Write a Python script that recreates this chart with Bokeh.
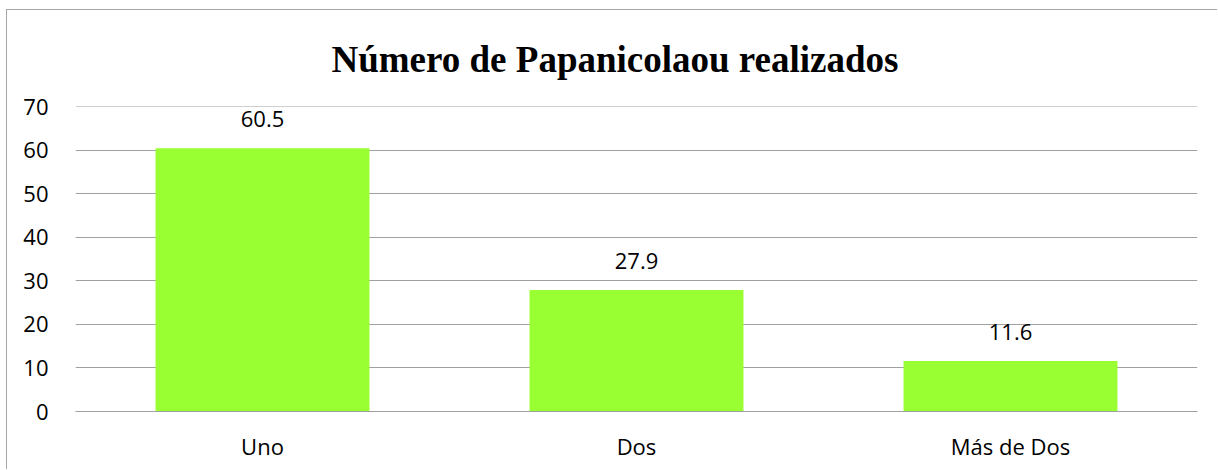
from bokeh.plotting import figure
from bokeh.models import FactorRange, Range1d, FixedTicker, ColumnDataSource
from bokeh.core.properties import value
from bokeh.embed import file_html
from bokeh.resources import INLINE

categories = ["Uno", "Dos", "Más de Dos"]
values = [60.5, 27.9, 11.6]
labels = ["60.5", "27.9", "11.6"]
y_ticks = [0, 10, 20, 30, 40, 50, 60, 70]
title_text = "Número de Papanicolaou realizados"

src = ColumnDataSource(dict(cat=categories, val=values, lab=labels))

p = figure(
    width=1211, height=460,
    x_range=FactorRange(*categories), y_range=Range1d(0, 70.1),
    output_backend="svg", toolbar_location=None,
    min_border_left=68, min_border_right=21, min_border_top=96, min_border_bottom=59,
)
p.styles = {"margin-left": "6px", "margin-top": "9px",
            "border-left": "1px solid #a6a6a6", "border-top": "1px solid #a6a6a6"}
p.outline_line_color = None
p.background_fill_color = "white"
p.border_fill_color = "white"

p.title.text = title_text
p.title.text_font = "Liberation Serif"
p.title.text_font_style = "bold"
p.title.text_font_size = "37px"
p.title.text_color = "black"
p.title.align = "left"
p.title.offset = 256
p.title.standoff = 53

p.vbar(x="cat", top="val", width=0.572, source=src, fill_color="#99FF33", line_color=None)
p.text(x="cat", y="val", text="lab", source=src, text_align="center", text_baseline="alphabetic",
       y_offset=-29, text_font=value("Open Sans"), text_font_size="22px", text_color="black")

p.xgrid.grid_line_color = None
p.ygrid.grid_line_color = "#a0a0a0"
p.ygrid.grid_line_width = 1.2
p.yaxis.ticker = FixedTicker(ticks=y_ticks)

for ax in (p.xaxis[0], p.yaxis[0]):
    ax.major_tick_line_color = None
    ax.minor_tick_line_color = None
    ax.major_tick_out = 0
    ax.major_tick_in = 0
    ax.major_label_text_font = "Open Sans"
    ax.major_label_text_font_size = "22px"
    ax.major_label_text_color = "black"
p.yaxis.axis_line_color = None
p.xaxis.axis_line_color = "#a0a0a0"
p.xaxis.axis_line_width = 1.2
p.yaxis.major_label_standoff = 27
p.xaxis.major_label_standoff = 19

open("out.html", "w").write(file_html(p, INLINE))
